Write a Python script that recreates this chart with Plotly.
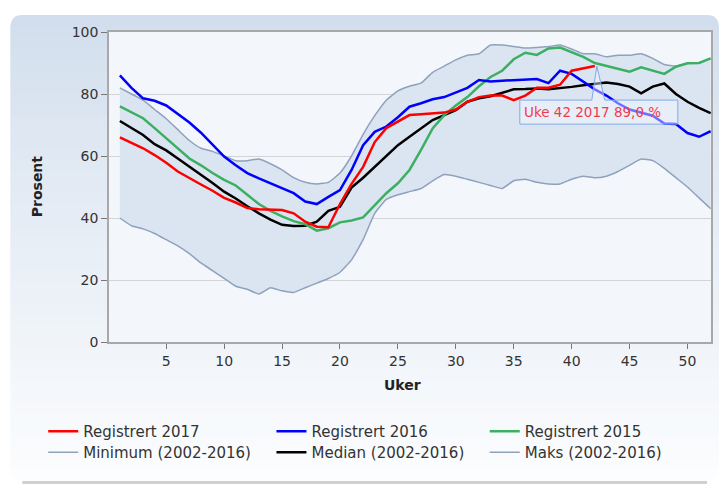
import plotly.graph_objects as go

# ---------------- data ----------------
weeks = list(range(1, 53))
reg2017 = [66, 64.3, 62.5, 60.3, 57.8, 55, 52.8, 50.8, 48.8, 46.5,
           45, 43.2, 42.8, 42.8, 42.6, 41.5, 38.8, 37.2, 37, 44.5,
           51, 56.5, 64.5, 69, 71, 73.2, 73.5, 73.7, 74, 75,
           77.5, 79, 79.5, 79.5, 78, 79.5, 82, 82, 83, 87.5,
           88.2, 89.0]
reg2016 = [86, 82, 78.6, 77.8, 76.3, 73.5, 70.8, 67.5, 63.5, 59.8,
           57, 54.5, 52.8, 51.2, 49.5, 48, 45.3, 44.5, 46.8, 49,
           55.5, 63.5, 67.8, 69.5, 72.5, 75.9, 77, 78.3, 79, 80.5,
           82, 84.5, 84, 84.3, 84.5, 84.7, 84.8, 83.5, 87.5, 86.5,
           84, 81.5, 79.5, 77, 75, 74, 73, 70.5, 70.3, 67.4,
           66.2, 68]
reg2015 = [76, 74, 72.2, 69, 65.7, 62.5, 59.2, 57, 54.5, 52.3,
           50.5, 47.5, 44.5, 42.3, 40.5, 39, 38, 35.9, 36.7, 38.6,
           39.2, 40.2, 44.2, 48, 51.2, 55.5, 62, 68.9, 73.2, 76.3,
           79, 82.5, 85.5, 87.5, 91.2, 93.3, 92.6, 94.7, 95, 93.5,
           92, 90, 89, 88, 87.2, 88.6, 87.5, 86.5, 88.8, 89.9,
           90, 91.5]
minimum = [40, 37.5, 36.5, 35, 33, 31, 28.5, 25.5, 23, 20.5,
           18, 17, 15.5, 17.5, 16.5, 16, 17.5, 19, 20.5, 22.5,
           26.5, 33, 41.5, 46, 47.5, 48.5, 49.5, 52, 54, 53.5,
           52.5, 51.5, 50.5, 49.5, 52, 52.5, 51.5, 51, 51, 52.5,
           53.5, 53, 53.5, 55, 57, 59, 58.5, 56, 53, 50,
           46.5, 43]
median = [71.3, 69, 66.8, 63.8, 61.8, 59.2, 56.6, 54, 51.3, 48.5,
          46.3, 43.8, 41.5, 39.5, 37.8, 37.4, 37.5, 38.8, 42.3, 43.6,
          49.8, 53, 56.5, 60, 63.5, 66.2, 68.8, 71.6, 73.2, 74.8,
          77.5, 78.6, 79.3, 80.5, 81.5, 81.6, 81.8, 81.5, 81.8, 82.3,
          82.8, 83.3, 83.7, 83.2, 82.4, 80.2, 82.4, 83.4, 80, 77.5,
          75.5, 73.8]
maks = [82, 80, 78, 75, 72, 68.5, 65, 62.5, 61.5, 60,
        58.5, 58.5, 59, 57.5, 55.5, 53, 51.5, 51, 51.5, 54.5,
        60, 67, 73, 78, 81, 82.5, 83.5, 87, 89, 91,
        92.5, 93, 95.8, 95.8, 95.3, 94.8, 95, 95.3, 95.8, 94.5,
        93, 93, 92, 92.5, 92.5, 93, 91.5, 89.5, 89, 89.9,
        90, 91.5]
xticks = [5, 10, 15, 20, 25, 30, 35, 40, 45, 50]
yticks = [0, 20, 40, 60, 80, 100]

# ---------------- layout geometry ----------------
W, H = 724, 486
L, R, T, B = 109, 11, 32, 144
PW, PH = W - L - R, H - T - B


def fx(px):
    return (px - L) / PW


def fy(py):
    return (H - B - py) / PH


FONT = "DejaVu Sans"

fig = go.Figure()

band_line = dict(color="#8fa1bd", width=1.5, shape="spline", smoothing=0.4)
fig.add_trace(go.Scatter(x=weeks, y=minimum, mode="lines", line=band_line,
                         name="Minimum (2002-2016)", legend="legend4"))
fig.add_trace(go.Scatter(x=weeks, y=maks, mode="lines",
                         line=dict(width=0, shape="spline", smoothing=0.4),
                         fill="tonexty", fillcolor="#dbe5f1",
                         showlegend=False, hoverinfo="skip"))
fig.add_trace(go.Scatter(x=weeks, y=maks, mode="lines", line=band_line,
                         name="Maks (2002-2016)", legend="legend6"))
fig.add_trace(go.Scatter(x=weeks, y=median, mode="lines",
                         line=dict(color="#000000", width=2.5),
                         name="Median (2002-2016)", legend="legend5"))
fig.add_trace(go.Scatter(x=weeks, y=reg2015, mode="lines",
                         line=dict(color="#3caf62", width=2.5),
                         name="Registrert 2015", legend="legend3"))
fig.add_trace(go.Scatter(x=weeks, y=reg2016, mode="lines",
                         line=dict(color="#0000ff", width=2.5),
                         name="Registrert 2016", legend="legend2"))
fig.add_trace(go.Scatter(x=weeks[:len(reg2017)], y=reg2017, mode="lines",
                         line=dict(color="#ff0000", width=2.5),
                         name="Registrert 2017", legend="legend"))

# ---------------- card background (gradient) ----------------
shapes = []
cx0, cx1, cy0, cy1, rr = 10, 721, 15, 481, 12
top_c = (210, 222, 237)
bot_c = (252, 253, 254)


def col(t):
    c = [round(a + (b - a) * t) for a, b in zip(top_c, bot_c)]
    return "rgb(%d,%d,%d)" % tuple(c)


# shadow
shapes.append(dict(type="path", xref="paper", yref="paper", layer="below",
                   path="M%f,%f L%f,%f L%f,%f L%f,%f Z" % (
                       fx(cx0 + rr), fy(cy1 - 2), fx(cx1 - rr), fy(cy1 - 2),
                       fx(cx1 - rr), fy(cy1 + 3), fx(cx0 + rr), fy(cy1 + 3)),
                   fillcolor="rgba(120,120,120,0.35)", line=dict(width=0)))
# top rounded part
shapes.append(dict(type="path", xref="paper", yref="paper", layer="below",
                   path="M%f,%f Q%f,%f %f,%f L%f,%f Q%f,%f %f,%f L%f,%f L%f,%f Z" % (
                       fx(cx0), fy(cy0 + rr + 1), fx(cx0), fy(cy0), fx(cx0 + rr), fy(cy0),
                       fx(cx1 - rr), fy(cy0), fx(cx1), fy(cy0), fx(cx1), fy(cy0 + rr + 1),
                       fx(cx1), fy(cy0 + rr + 1), fx(cx0), fy(cy0 + rr + 1)),
                   fillcolor=col(0), line=dict(width=0)))
N = 40
ys = [cy0 + rr + (cy1 - rr - cy0 - rr) * i / N for i in range(N + 1)]
for i in range(N):
    t = (ys[i] - cy0) / (cy1 - cy0)
    shapes.append(dict(type="rect", xref="paper", yref="paper", layer="below",
                       x0=fx(cx0), x1=fx(cx1), y0=fy(ys[i]), y1=fy(ys[i + 1] + 1),
                       fillcolor=col(t ** 0.9), line=dict(width=0)))
shapes.append(dict(type="path", xref="paper", yref="paper", layer="below",
                   path="M%f,%f L%f,%f L%f,%f Q%f,%f %f,%f L%f,%f Q%f,%f %f,%f Z" % (
                       fx(cx0), fy(cy1 - rr - 1), fx(cx1), fy(cy1 - rr - 1),
                       fx(cx1), fy(cy1 - rr), fx(cx1), fy(cy1), fx(cx1 - rr), fy(cy1),
                       fx(cx0 + rr), fy(cy1), fx(cx0), fy(cy1), fx(cx0), fy(cy1 - rr)),
                   fillcolor=col(1), line=dict(width=0)))
# plot-area background
shapes.append(dict(type="rect", xref="paper", yref="paper", layer="below",
                   x0=0, x1=1, y0=0, y1=1, fillcolor="#f3f6fb", line=dict(width=0)))

# tooltip callout anchored at the last 2017 point
tip_w = weeks[len(reg2017) - 1]
tip_v = reg2017[-1]
shapes.append(dict(type="path", xref="x", yref="y", xsizemode="pixel", ysizemode="pixel",
                   xanchor=tip_w, yanchor=tip_v, layer="above",
                   path="M-75,-34 L-3,-34 L2,0 L10,-34 L83,-34 L83,-58 L-75,-58 Z",
                   fillcolor="rgba(246,249,254,0.45)", line=dict(color="#80aaea", width=1)))

annotations = [
    dict(x=tip_w, y=tip_v, xref="x", yref="y", showarrow=False,
         text=("Uke %d 2017 %.1f %%" % (tip_w, tip_v)).replace(".", ","),
         xshift=-2, yshift=-46, font=dict(family=FONT, size=13.5, color="#f23a4e")),
    dict(x=fx(403), y=fy(385), xref="paper", yref="paper", showarrow=False,
         text="<b>Uker</b>", font=dict(family=FONT, size=14, color="#222"),
         xanchor="center", yanchor="middle"),
    dict(x=fx(37), y=fy(186), xref="paper", yref="paper", showarrow=False,
         text="<b>Prosent</b>", textangle=-90, font=dict(family=FONT, size=14, color="#222"),
         xanchor="center", yanchor="middle"),
]

leg_common = dict(orientation="v", yanchor="top", xanchor="left", bgcolor="rgba(0,0,0,0)",
                  font=dict(family=FONT, size=15, color="#333"), tracegroupgap=0,
                  itemclick=False)
col_x = [43, 272, 486]
row_top = [415, 436]

fig.update_layout(
    width=W, height=H,
    margin=dict(l=L, r=R, t=T, b=B),
    paper_bgcolor="white",
    plot_bgcolor="rgba(0,0,0,0)",
    font=dict(family=FONT, size=14, color="#333"),
    showlegend=True,
    legend=dict(x=fx(col_x[0]), y=fy(row_top[0]), **leg_common),
    legend2=dict(x=fx(col_x[1]), y=fy(row_top[0]), **leg_common),
    legend3=dict(x=fx(col_x[2]), y=fy(row_top[0]), **leg_common),
    legend4=dict(x=fx(col_x[0]), y=fy(row_top[1]), **leg_common),
    legend5=dict(x=fx(col_x[1]), y=fy(row_top[1]), **leg_common),
    legend6=dict(x=fx(col_x[2]), y=fy(row_top[1]), **leg_common),
    shapes=shapes,
    annotations=annotations,
    xaxis=dict(range=[0.06, 52.03], tickvals=xticks, ticks="outside", ticklen=5,
               tickcolor="#777", showgrid=False, zeroline=False, showline=True,
               linecolor="#a8a8a8", linewidth=1.5, mirror=True,
               tickfont=dict(family=FONT, size=14, color="#333")),
    yaxis=dict(range=[0, 100], tickvals=yticks, ticks="outside", ticklen=6,
               tickcolor="#777", showgrid=True, gridcolor="#d2d4d8", gridwidth=1,
               zeroline=False, showline=True, linecolor="#a8a8a8", linewidth=1.5,
               mirror=True, tickfont=dict(family=FONT, size=14, color="#333")),
)

fig.write_html("out.html", config={"displayModeBar": False},
               post_script="document.body.style.margin='0';")
